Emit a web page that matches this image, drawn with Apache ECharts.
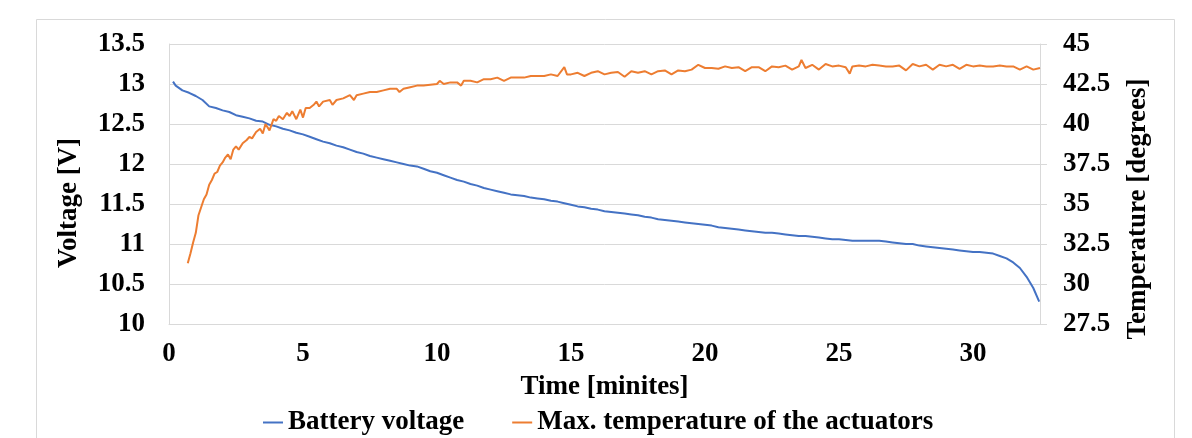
<!DOCTYPE html>
<html>
<head>
<meta charset="utf-8">
<script src="https://cdn.jsdelivr.net/npm/echarts@6/dist/echarts.min.js"></script>
<style>
html,body{margin:0;padding:0;background:#fff;}
#chart{width:1192px;height:438px;}
</style>
</head>
<body>
<div id="chart"></div>
<script>
// ---- data ----
var voltTime = [0.15,0.25,0.5,0.75,1,1.25,1.5,1.75,2,2.25,2.5,2.75,3,3.25,3.5,3.75,4,4.25,4.5,4.75,5,5.25,5.5,5.75,6,6.25,6.5,6.75,7,7.25,7.5,7.75,8,8.25,8.5,8.75,9,9.25,9.5,9.75,10,10.25,10.5,10.75,11,11.25,11.5,11.75,12,12.25,12.5,12.75,13,13.25,13.5,13.75,14,14.25,14.5,14.75,15,15.25,15.5,15.75,16,16.25,16.5,16.75,17,17.25,17.5,17.75,18,18.25,18.5,18.75,19,19.25,19.5,19.75,20,20.25,20.5,20.75,21,21.25,21.5,21.75,22,22.25,22.5,22.75,23,23.25,23.5,23.75,24,24.25,24.5,24.75,25,25.25,25.5,25.75,26,26.25,26.5,26.75,27,27.25,27.5,27.75,28,28.25,28.5,28.75,29,29.25,29.5,29.75,30,30.25,30.5,30.75,31,31.25,31.5,31.75,32,32.25,32.47];
var voltValues = [13.03,12.98,12.92,12.89,12.85,12.80,12.72,12.70,12.67,12.65,12.61,12.59,12.57,12.54,12.53,12.49,12.47,12.44,12.42,12.39,12.37,12.34,12.31,12.28,12.26,12.23,12.21,12.18,12.15,12.13,12.10,12.08,12.06,12.04,12.02,12.00,11.98,11.97,11.94,11.91,11.89,11.86,11.83,11.80,11.78,11.75,11.73,11.70,11.68,11.66,11.64,11.62,11.61,11.60,11.58,11.57,11.56,11.54,11.53,11.51,11.49,11.47,11.46,11.44,11.43,11.41,11.40,11.39,11.38,11.37,11.36,11.34,11.33,11.31,11.30,11.29,11.28,11.27,11.26,11.25,11.24,11.23,11.21,11.20,11.19,11.18,11.17,11.16,11.15,11.14,11.14,11.13,11.12,11.11,11.10,11.10,11.09,11.08,11.07,11.06,11.06,11.05,11.04,11.04,11.04,11.04,11.04,11.03,11.02,11.01,11.00,11.00,10.98,10.97,10.96,10.95,10.94,10.93,10.92,10.91,10.90,10.90,10.89,10.88,10.85,10.82,10.77,10.70,10.59,10.45,10.28];

var tempTime = [0.7,0.8,0.9,1,1.1,1.2,1.3,1.4,1.5,1.6,1.7,1.8,1.9,2,2.1,2.2,2.3,2.4,2.5,2.6,2.75,2.9,3,3.1,3.25,3.4,3.5,3.6,3.75,3.9,4,4.1,4.25,4.4,4.5,4.6,4.75,4.9,5,5.1,5.25,5.4,5.5,5.6,5.75,6,6.1,6.25,6.5,6.75,6.9,7,7.25,7.5,7.75,8,8.25,8.5,8.6,8.75,9,9.25,9.5,9.75,10,10.1,10.25,10.5,10.75,10.9,11,11.25,11.5,11.75,12,12.25,12.5,12.75,13,13.25,13.5,13.75,14,14.25,14.5,14.75,14.85,15,15.25,15.5,15.75,16,16.25,16.5,16.75,17,17.25,17.5,17.75,18,18.25,18.5,18.75,19,19.25,19.5,19.75,20,20.25,20.5,20.75,21,21.25,21.5,21.75,22,22.25,22.5,22.75,23,23.25,23.5,23.6,23.75,24,24.25,24.5,24.75,25,25.25,25.4,25.5,25.75,26,26.25,26.5,26.75,27,27.25,27.5,27.75,28,28.25,28.5,28.75,29,29.25,29.5,29.75,30,30.25,30.5,30.75,31,31.25,31.5,31.75,32,32.25,32.5];
var tempValues = [31.3,31.9,32.6,33.2,34.3,34.8,35.3,35.6,36.2,36.5,36.9,37.0,37.4,37.6,37.9,38.1,37.8,38.4,38.6,38.4,38.8,39.0,39.2,39.1,39.5,39.7,39.4,40.0,39.6,40.3,40.2,40.5,40.3,40.7,40.5,40.8,40.3,40.9,40.4,41.0,41.0,41.2,41.4,41.1,41.4,41.5,41.2,41.5,41.6,41.8,41.5,41.8,41.9,42.0,42.0,42.1,42.2,42.2,42.0,42.2,42.3,42.4,42.4,42.45,42.5,42.7,42.5,42.6,42.6,42.4,42.7,42.7,42.6,42.8,42.8,42.9,42.7,42.9,42.9,42.9,43.0,43.0,43.0,43.1,43.0,43.55,43.1,43.1,43.2,43.0,43.2,43.3,43.1,43.2,43.25,42.95,43.3,43.2,43.3,43.1,43.3,43.35,43.1,43.35,43.3,43.4,43.7,43.5,43.5,43.45,43.6,43.5,43.55,43.3,43.55,43.55,43.3,43.6,43.55,43.65,43.4,43.6,44.0,43.5,43.7,43.4,43.75,43.6,43.65,43.55,43.15,43.6,43.65,43.6,43.7,43.65,43.6,43.6,43.65,43.35,43.75,43.6,43.7,43.4,43.7,43.6,43.7,43.45,43.7,43.6,43.65,43.6,43.6,43.65,43.6,43.6,43.4,43.6,43.4,43.5];

var seriesNames = ['Battery voltage', 'Max. temperature of the actuators'];
var axisNames = ['Time [minites]', 'Voltage [V]', 'Temperature [degrees]'];

function pairs(xs, ys){ return xs.map(function(x,i){ return [x, ys[i]]; }); }

var FONT = 'Liberation Serif';
var txt = {fontFamily: FONT, fontWeight: 'bold', fontSize: 27, color: '#000'};
var grey = '#D9D9D9';

var chart = echarts.init(document.getElementById('chart'), null, {renderer: 'canvas'});
chart.setOption({
  animation: false,
  backgroundColor: '#fff',
  graphic: [{
    type: 'rect', left: 34, top: 17, silent: true,
    shape: {width: 1138, height: 440},
    style: {fill: 'none', stroke: grey, lineWidth: 1}
  }],
  grid: {left: 169, right: 152, top: 44, bottom: 114, containLabel: false},
  legend: {
    left: 263, top: 409, padding: 0,
    itemWidth: 20, itemHeight: 2, itemGap: 48, icon: 'rect',
    textStyle: txt,
    data: seriesNames
  },
  xAxis: {
    type: 'value', min: 0, max: 32.5, interval: 5,
    name: axisNames[0], nameLocation: 'middle', nameGap: 50, nameTextStyle: txt,
    axisLine: {show: true, lineStyle: {color: grey}},
    axisTick: {show: false},
    splitLine: {show: false},
    axisLabel: Object.assign({margin: 17, showMaxLabel: false,
      formatter: function(v){ return (v % 5 === 0) ? String(v) : ''; }}, txt)
  },
  yAxis: [{
    type: 'value', min: 10, max: 13.5, interval: 0.5, position: 'left',
    name: axisNames[1], nameLocation: 'middle', nameRotate: 90, nameGap: 86,
    nameTextStyle: Object.assign({padding: [0, 38, 0, 0]}, txt),
    axisLine: {show: true, lineStyle: {color: grey}},
    axisTick: {show: false},
    splitLine: {show: true, lineStyle: {color: grey}},
    axisLabel: Object.assign({margin: 24}, txt)
  }, {
    type: 'value', min: 27.5, max: 45, interval: 2.5, position: 'right',
    name: axisNames[2], nameLocation: 'middle', nameRotate: 90, nameGap: 85,
    nameTextStyle: Object.assign({padding: [0, 50, 0, 0]}, txt),
    axisLine: {show: true, lineStyle: {color: grey}},
    axisTick: {show: true, length: 7, lineStyle: {color: grey}},
    splitLine: {show: false},
    axisLabel: Object.assign({margin: 23}, txt)
  }],
  series: [{
    name: seriesNames[0], type: 'line', yAxisIndex: 0,
    data: pairs(voltTime, voltValues),
    showSymbol: false, symbol: 'none',
    lineStyle: {color: '#4472C4', width: 2},
    itemStyle: {color: '#4472C4'}
  }, {
    name: seriesNames[1], type: 'line', yAxisIndex: 1,
    data: pairs(tempTime, tempValues),
    showSymbol: false, symbol: 'none',
    lineStyle: {color: '#ED7D31', width: 2},
    itemStyle: {color: '#ED7D31'}
  }]
});
</script>
</body>
</html>
